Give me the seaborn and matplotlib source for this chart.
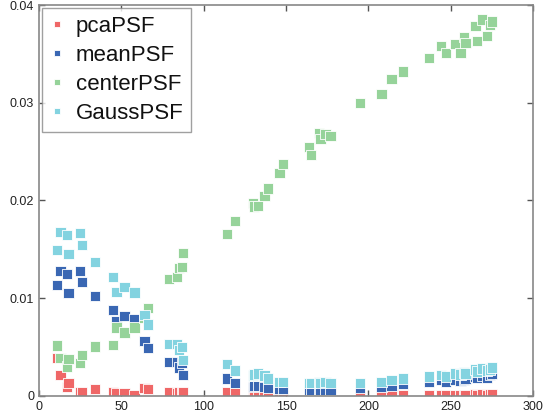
import numpy as np
import pandas as pd
import matplotlib
matplotlib.use("Agg")
import matplotlib.pyplot as plt
import seaborn as sns

x_vals = [11, 13, 17, 18, 25, 26, 34, 45, 47, 52, 58, 64, 66, 79, 84, 85, 87, 87.5,
          114, 119, 130, 130.5, 133, 137, 139, 146, 148, 164, 165, 170, 171, 174, 177,
          195, 208, 214, 221, 237, 244, 247, 253, 256, 258, 259, 265, 266, 269, 272, 274, 275]

pca_psf = [0.00386, 0.00215, 0.00089, 0.0013, 0.00038, 0.0004, 0.00072, 0.00038, 0.0003, 0.00027,
           0.0001, 0.00079, 0.00068, 0.00044, 0.0003, 0.0004, 0.00044, 0.0004,
           0.00044, 0.00027, 0.0002, 0.0003, 0.0002, 0.0002, 0.00015, 0.0001, 0.0001, 0.0001,
           0.0001, 0.0001, 0.0001, 0.0001, 0.0001,
           0.0001, 0.0001, 0.0001, 0.0001, 0.0001, 0.0001, 0.0001, 0.0001, 0.0001, 0.0001,
           0.0001, 0.0002, 0.0001, 0.0002, 0.0001, 0.0002, 0.0002]

mean_psf = [0.01136, 0.01279, 0.01248, 0.01057, 0.01279, 0.01169, 0.01023, 0.0088, 0.0077, 0.0082,
            0.00788, 0.00563, 0.00488, 0.00345, 0.00345, 0.0029, 0.00334, 0.00215,
            0.0018, 0.0013, 0.0009, 0.0010, 0.0010, 0.0009, 0.0008, 0.0007, 0.0007, 0.0006,
            0.0006, 0.0006, 0.0006, 0.0006, 0.0006,
            0.0008, 0.0009, 0.0010, 0.0012, 0.00146, 0.0016, 0.0014, 0.0016, 0.0015, 0.0016,
            0.0017, 0.0020, 0.0019, 0.0021, 0.0019, 0.0022, 0.0023]

center_psf = [0.00515, 0.00386, 0.0030, 0.00375, 0.0034, 0.0042, 0.00505, 0.0052, 0.0070, 0.0065,
              0.0070, 0.0080, 0.0090, 0.0120, 0.01214, 0.0131, 0.0132, 0.01466,
              0.01654, 0.01787, 0.01971, 0.01937, 0.01944, 0.02046, 0.02124, 0.02278, 0.02373,
              0.02544, 0.02465, 0.02694, 0.02629, 0.0268, 0.0266,
              0.02994, 0.0309, 0.0324, 0.0332, 0.03458, 0.0358, 0.03506, 0.0360, 0.03506, 0.0367,
              0.03614, 0.03785, 0.0363, 0.03853, 0.03683, 0.03795, 0.0383]

gauss_psf = [0.01494, 0.01675, 0.01647, 0.0145, 0.0167, 0.01545, 0.01374, 0.0122, 0.01067, 0.01118,
             0.0106, 0.0083, 0.0073, 0.00529, 0.00529, 0.0047, 0.00504, 0.00368,
             0.00327, 0.0026, 0.0021, 0.0022, 0.0023, 0.0021, 0.0018, 0.00146, 0.0014, 0.00136,
             0.0013, 0.0014, 0.0013, 0.0014, 0.0013,
             0.0013, 0.00146, 0.00164, 0.0018, 0.0020, 0.00215, 0.0020, 0.0023, 0.0022, 0.0024,
             0.0023, 0.0027, 0.0025, 0.0028, 0.0026, 0.0027, 0.0029]

series_names = ["pcaPSF", "meanPSF", "centerPSF", "GaussPSF"]
series_values = [pca_psf, mean_psf, center_psf, gauss_psf]
colors = ["#EF6767", "#3A67B3", "#96D39A", "#83D3E0"]

x_ticks = [0, 50, 100, 150, 200, 250, 300]
x_tick_labels = ["0", "50", "100", "150", "200", "250", "300"]
y_ticks = [0, 0.01, 0.02, 0.03, 0.04]
y_tick_labels = ["0", "0.01", "0.02", "0.03", "0.04"]

rows = []
for name, vals in zip(series_names, series_values):
    for xv, yv in zip(x_vals, vals):
        rows.append({"x": xv, "y": yv, "series": name})
df = pd.DataFrame(rows)

sns.set_style("white")
plt.rcParams["font.family"] = ["Liberation Sans", "DejaVu Sans"]

fig = plt.figure(figsize=(5.57, 4.19), dpi=100)
ax = fig.add_axes([0.070, 0.055, 0.887, 0.933])

sns.scatterplot(data=df, x="x", y="y", hue="series", hue_order=series_names,
                palette=colors, marker="s", s=55, edgecolor="white", linewidth=0.6,
                ax=ax, legend=True)

ax.set_xlim(0, 300)
ax.set_ylim(0, 0.04)
ax.set_xticks(x_ticks)
ax.set_xticklabels(x_tick_labels)
ax.set_yticks(y_ticks)
ax.set_yticklabels(y_tick_labels)
ax.set_xlabel("")
ax.set_ylabel("")
ax.tick_params(direction="in", length=4, width=1, colors="#555555", labelcolor="#222222",
               labelsize=9, top=True, right=True, bottom=True, left=True)
for sp in ax.spines.values():
    sp.set_visible(True)
    sp.set_color("#888888")
    sp.set_linewidth(1.2)

handles, labels = ax.get_legend_handles_labels()
leg = ax.legend(handles, labels, loc="upper left", fontsize=16, frameon=True,
                fancybox=False, edgecolor="#888888", markerscale=0.6,
                handlelength=0.6, handletextpad=0.55, borderpad=0.35, labelspacing=0.36,
                bbox_to_anchor=(0.0, 1.0), borderaxespad=0.15)
leg.get_frame().set_linewidth(1.0)
for t in leg.get_texts():
    t.set_color("#111111")

fig.savefig("out.png", dpi=100)
